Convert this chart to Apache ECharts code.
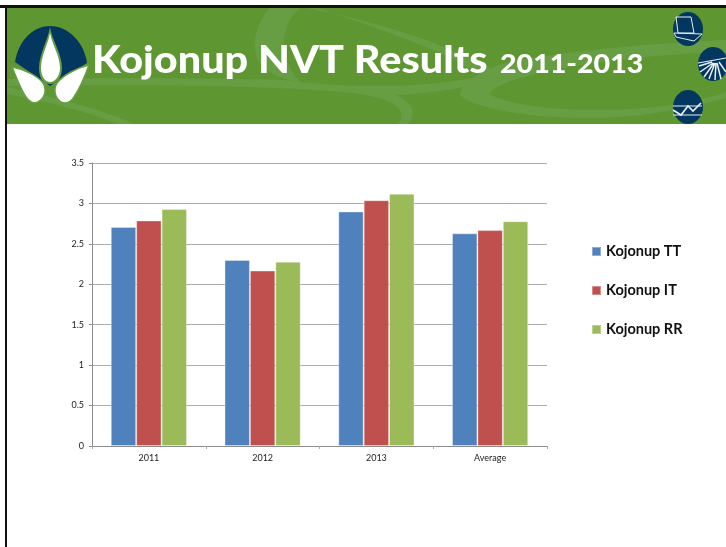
<!DOCTYPE html>
<html>
<head>
<meta charset="utf-8">
<style>
  html, body { margin: 0; padding: 0; background: #fff; }
  #chart { width: 726px; height: 547px; }
</style>
<script src="https://cdn.jsdelivr.net/npm/echarts@6/dist/echarts.min.js"></script>
</head>
<body>
<div id="chart"></div>
<script>
const categories = ['2011', '2012', '2013', 'Average'];
const kojonupTT = [2.71, 2.30, 2.90, 2.63];
const kojonupIT = [2.79, 2.17, 3.04, 2.67];
const kojonupRR = [2.93, 2.28, 3.12, 2.78];

const GREEN = '#5e9732';
const SWOOSH = '#679e43';
const NAVY = '#03375f';
const FONT = 'Lato, "Open Sans", sans-serif';

const barSeries = (name, data, color) => ({
  name,
  type: 'bar',
  data,
  barGap: 0,
  barCategoryGap: '33%',
  itemStyle: { color, borderColor: 'rgba(255,255,255,0.35)', borderWidth: 1 }
});

// the graphic component has no plain 'path' type here, so register each svg path as its own shape
let pathCount = 0;
const pathEl = (d, style, z) => {
  const name = 'bannerPath' + pathCount++;
  echarts.graphic.registerShape(name, echarts.graphic.extendPath(d, {}));
  return { type: name, z: z || 2, style, silent: true };
};

const swoosh = (d, fill) => pathEl(d, { fill: fill || SWOOSH }, 1);
const shape = (d, fill, z, stroke) => pathEl(d, { fill, stroke, lineWidth: stroke ? 1.5 : 0 }, z);
const iconLine = (d, w) => pathEl(d, { fill: null, stroke: '#e8eef2', lineWidth: w || 1 }, 3);

const dot = (cx, cy) => ({
  type: 'ellipse',
  z: 2,
  shape: { cx, cy, rx: 15, ry: 17 },
  style: { fill: NAVY }
});

const titleText = (text, x, y, size, scaleX) => ({
  type: 'text',
  z: 5,
  x,
  y,
  scaleX,
  style: {
    x: 0,
    y: 0,
    text,
    fill: '#fff',
    font: '900 ' + size + 'px Lato, "Open Sans", sans-serif',
    verticalAlign: 'middle'
  }
});

const banner = [
  { type: 'rect', z: 0, shape: { x: 0, y: 5, width: 726, height: 3 }, style: { fill: '#111' } },
  { type: 'rect', z: 0, shape: { x: 5, y: 5, width: 2, height: 542 }, style: { fill: '#111' } },
  { type: 'rect', z: 0, shape: { x: 7, y: 8, width: 719, height: 116 }, style: { fill: GREEN } },
  // background swooshes
  swoosh('M 270 8 C 255 24 249 50 262 66 C 270 74 284 80 300 82 C 287 68 280 46 286 30 C 288 22 292 14 300 8 Z'),
  swoosh('M 307 8 C 360 18 440 40 494 70 C 490 74 486 76 482 76 C 440 48 370 26 318 8 Z'),
  swoosh('M 7 79 C 100 78 200 78 283 80 C 340 88 430 90 490 74 C 480 84 455 92 395 95 C 412 102 418 112 408 124 L 398 124 C 408 112 398 100 360 94 C 300 86 150 84 7 86 Z'),
  swoosh('M 7 87 C 40 94 100 108 134 124 L 118 124 C 90 112 40 100 7 94 Z'),
  swoosh('M 726 40 C 640 44 560 52 510 62 C 480 70 460 84 460 95 C 470 106 520 118 590 118 C 640 118 690 108 726 98 Z'),
  swoosh('M 726 52 C 650 54 570 64 520 78 C 500 84 490 90 490 94 C 500 102 540 110 600 110 C 650 110 700 102 726 92 Z', GREEN),
  // logo
  shape('M 15 62 C 19 38 35 26 50 26 C 68 26 84 42 87 63 L 50 86 Z', NAVY),
  shape('M 50 27 C 52 40 62 54 62 68 C 62 78 57 84 50 84 C 43 84 39 78 39 68 C 39 54 48 40 50 27 Z', SWOOSH, 3),
  shape('M 50 33 C 52 44 60 56 60 68 C 60 76 55 82 50 82 C 45 82 41 76 41 68 C 41 56 48 44 50 33 Z', '#fff', 4),
  shape('M 12 67 C 24 69 38 76 43 83 C 47 90 45 98 38 102 C 34 104 29 102 26 97 C 20 88 16 76 12 67 Z', '#fff', 4, SWOOSH),
  shape('M 89 65 C 76 68 62 76 57 83 C 53 90 55 98 61 102 C 66 104 71 102 74 97 C 80 88 85 76 89 65 Z', '#fff', 4, SWOOSH),
  // round icons
  dot(688, 29),
  dot(713, 64),
  dot(688, 107),
  iconLine('M 678 33 L 676 17 L 691 17 L 694 33 Z M 674 33 L 702 34 L 694 41 L 676 37 Z'),
  iconLine('M 698 63 L 726 58', 1.2),
  iconLine('M 712 62 L 699 66 M 713 63 L 700 72 M 714 63 L 704 77 M 715 63 L 709 79 M 716 63 L 715 80 M 717 63 L 721 79 M 719 62 L 726 72', 1.5),
  iconLine('M 673 110 L 681 115 L 688 106 L 693 111 L 701 103', 1.7),
  iconLine('M 673 106 L 702 106 M 673 115 L 702 115'),
  // slide title
  titleText('Kojonup NVT Results', 92, 61, 38, 1.088),
  titleText('2011-2013', 500, 65, 26, 1.1)
];

const chart = echarts.init(document.getElementById('chart'), null, { renderer: 'canvas' });

chart.setOption({
  animation: false,
  backgroundColor: '#fff',
  textStyle: { fontFamily: FONT },
  graphic: banner,
  grid: { left: 92, top: 163, width: 455, height: 283, containLabel: false },
  legend: {
    orient: 'vertical',
    left: 586,
    top: 239,
    itemWidth: 9,
    itemHeight: 9,
    itemGap: 24,
    icon: 'rect',
    textStyle: { fontFamily: FONT, fontWeight: 'bold', fontSize: 14.5, color: '#111' }
  },
  xAxis: {
    type: 'category',
    data: categories,
    axisLine: { lineStyle: { color: '#8c8c8c' } },
    axisTick: { show: true, alignWithLabel: false, length: 3, lineStyle: { color: '#aaa' } },
    axisLabel: { color: '#222', fontSize: 9, margin: 8, fontFamily: FONT }
  },
  yAxis: {
    type: 'value',
    min: 0,
    max: 3.5,
    interval: 0.5,
    axisLine: { show: true, lineStyle: { color: '#8c8c8c' } },
    axisTick: { show: true, length: 3, lineStyle: { color: '#8c8c8c' } },
    axisLabel: { color: '#222', fontSize: 9, margin: 8, fontFamily: FONT },
    splitLine: { lineStyle: { color: '#adadad' } }
  },
  series: [
    barSeries('Kojonup TT', kojonupTT, '#4f81bd'),
    barSeries('Kojonup IT', kojonupIT, '#c0504d'),
    barSeries('Kojonup RR', kojonupRR, '#9bbb59')
  ]
});
</script>
</body>
</html>
